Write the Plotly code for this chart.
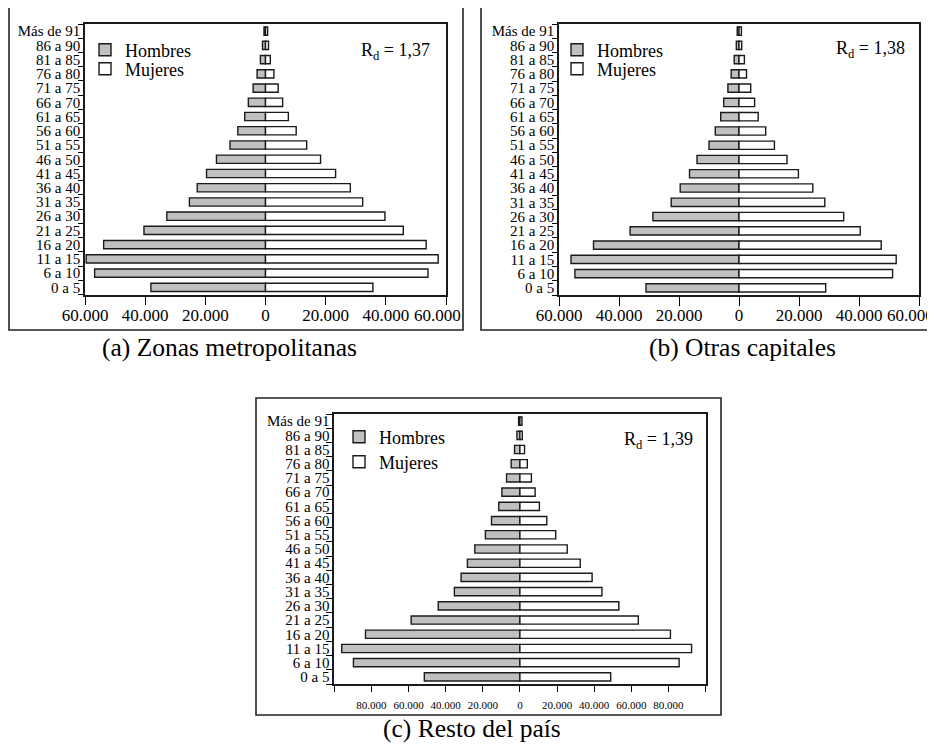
import plotly.graph_objects as go

# ---------------- data ----------------
age_groups = ["0 a 5", "6 a 10", "11 a 15", "16 a 20", "21 a 25", "26 a 30",
              "31 a 35", "36 a 40", "41 a 45", "46 a 50", "51 a 55", "56 a 60",
              "61 a 65", "66 a 70", "71 a 75", "76 a 80", "81 a 85", "86 a 90",
              "Más de 91"]

hombres_metro = [38100, 56800, 59600, 53800, 40400, 32800, 25300, 22700, 19600, 16300,
                 11800, 9200, 6900, 5700, 4100, 2800, 1700, 1000, 500]
mujeres_metro = [35700, 54000, 57400, 53400, 45800, 39700, 32300, 28200, 23300, 18300,
                 13700, 10200, 7600, 5700, 4200, 2800, 1600, 1000, 700]

hombres_cap = [31000, 54700, 56000, 48500, 36300, 28700, 22600, 19600, 16500, 14000,
               10000, 7900, 6100, 5100, 3700, 2600, 1600, 900, 600]
mujeres_cap = [28900, 51200, 52400, 47400, 40400, 34900, 28600, 24600, 19800, 16000,
               11800, 8900, 6400, 5200, 3900, 2500, 1800, 900, 800]

hombres_resto = [51500, 89700, 96000, 83200, 58600, 44000, 35300, 31700, 28300, 24300,
                 18600, 15300, 11400, 9700, 7200, 4700, 2900, 1600, 700]
mujeres_resto = [48900, 85800, 92500, 81100, 63800, 53300, 44200, 38900, 32500, 25500,
                 19300, 14500, 10500, 8200, 6200, 4000, 2500, 1300, 1100]

tick_vals_ab = [-60000, -40000, -20000, 0, 20000, 40000, 60000]
tick_text_ab = ["60.000", "40.000", "20.000", "0", "20.000", "40.000", "60.000"]
tick_vals_c = [-100000, -80000, -60000, -40000, -20000, 0, 20000, 40000, 60000, 80000, 100000]
tick_text_c = ["", "80.000", "60.000", "40.000", "20.000", "0", "20.000", "40.000",
               "60.000", "80.000", ""]

captions = ["(a) Zonas metropolitanas", "(b) Otras capitales", "(c) Resto del país"]
ratios = ["1,37", "1,38", "1,39"]
series_names = ["Hombres", "Mujeres"]

# ---------------- layout helpers ----------------
# the page body has an 8 px margin, so the figure starts at (8, 8) in the window
OFF = 8
W, H = 935 - OFF, 745 - OFF
FONT = "Liberation Serif"


def px_x(a):
    return (a - OFF) / W


def px_y(a):
    return 1 - (a - OFF) / H


panels = [
    dict(x0=85, x1=446, y0=24, y1=294.5, lim=60000, tv=tick_vals_ab, tt=tick_text_ab,
         last_shift=-9, last_y=315,
         xfont=17, xticklen=9, standoff=-5, yticklen=5,
         leg_x=125, leg_y=[50, 69], rd_x=432, rd_y=52,
         frame=(9, 7, 463, 330), cap_x=229, cap_y=347,
         h=hombres_metro, m=mujeres_metro),
    dict(x0=559, x1=919, y0=24, y1=295, lim=60000, tv=tick_vals_ab, tt=tick_text_ab,
         last_shift=-9, last_y=315,
         xfont=17, xticklen=9, standoff=-5, yticklen=5,
         leg_x=597, leg_y=[50, 69], rd_x=907, rd_y=50,
         frame=(481, 7, 933, 330), cap_x=742, cap_y=347,
         h=hombres_cap, m=mujeres_cap),
    dict(x0=334.3, x1=705.5, y0=414, y1=684, lim=100000, tv=tick_vals_c, tt=tick_text_c,
         last_shift=0, last_y=None,
         xfont=11, xticklen=6, standoff=4, yticklen=7,
         leg_x=379, leg_y=[437, 462], rd_x=695, rd_y=440,
         frame=(256, 398, 721, 715), cap_x=472, cap_y=728,
         h=hombres_resto, m=mujeres_resto),
]

fig = go.Figure()
layout = dict(
    width=W, height=H,
    margin=dict(l=0, r=0, t=0, b=0, pad=0, autoexpand=False),
    paper_bgcolor="white", plot_bgcolor="white",
    font=dict(family=FONT, color="black", size=15),
    barmode="overlay", bargap=0.42,
    showlegend=True,
)
shapes = []
annotations = []

for i, p in enumerate(panels):
    n = i + 1
    xa = "x" if n == 1 else f"x{n}"
    ya = "y" if n == 1 else f"y{n}"
    xkey = "xaxis" if n == 1 else f"xaxis{n}"
    ykey = "yaxis" if n == 1 else f"yaxis{n}"
    leg_h = "legend" if i == 0 else f"legend{2 * i + 1}"
    leg_m = f"legend{2 * i + 2}"

    fig.add_trace(go.Bar(
        y=age_groups, x=[-v for v in p["h"]], orientation="h",
        xaxis=xa, yaxis=ya, name=series_names[0], legend=leg_h,
        marker=dict(color="#c0c0c0", line=dict(color="#1a1a1a", width=1.4)),
        customdata=p["h"], hovertemplate="%{y}: %{customdata}<extra>Hombres</extra>",
    ))
    fig.add_trace(go.Bar(
        y=age_groups, x=p["m"], orientation="h",
        xaxis=xa, yaxis=ya, name=series_names[1], legend=leg_m,
        marker=dict(color="white", line=dict(color="#1a1a1a", width=1.4)),
        hovertemplate="%{y}: %{x}<extra>Mujeres</extra>",
    ))

    ticktext = list(p["tt"])
    if p["last_shift"]:
        # last label is drawn pulled inward (as in the original), as an annotation
        annotations.append(dict(
            text=ticktext[-1], xref=xa, yref="paper",
            x=p["tv"][-1], y=px_y(p["last_y"]), xshift=p["last_shift"],
            xanchor="center", yanchor="middle", showarrow=False,
            font=dict(size=p["xfont"], family=FONT),
        ))
        ticktext[-1] = ""

    layout[xkey] = dict(
        domain=[px_x(p["x0"]), px_x(p["x1"])], anchor=ya,
        range=[-p["lim"], p["lim"]], tickmode="array", tickvals=p["tv"], ticktext=ticktext,
        tickangle=0, automargin=False, ticklabeloverflow="allow",
        ticks="outside", ticklen=p["xticklen"], tickwidth=1.3, tickcolor="black",
        ticklabelstandoff=p["standoff"],
        showline=True, linecolor="#1a1a1a", linewidth=1.6, mirror=True,
        showgrid=False, zeroline=False, fixedrange=True,
        tickfont=dict(size=p["xfont"], family=FONT),
    )
    layout[ykey] = dict(
        domain=[px_y(p["y1"]), px_y(p["y0"])], anchor=xa,
        type="category", categoryorder="array", categoryarray=age_groups,
        tickmode="array", tickvals=age_groups, ticktext=age_groups,
        range=[-0.5, len(age_groups) - 0.5], automargin=False, tickangle=0,
        ticklabeloverflow="allow",
        ticks="outside", tickson="boundaries", ticklen=p["yticklen"],
        tickwidth=1.3, tickcolor="black",
        showline=True, linecolor="#1a1a1a", linewidth=1.6, mirror=True,
        showgrid=False, zeroline=False, fixedrange=True,
        tickfont=dict(size=15, family=FONT),
    )
    # vertical axis at zero with small ticks at category boundaries
    zkey = f"yaxis{n + 3}"
    zero_px = p["x0"] + (p["x1"] - p["x0"]) / 2
    layout[zkey] = dict(
        overlaying=ya, anchor="free", position=px_x(zero_px), side="left",
        range=[-0.5, len(age_groups) - 0.5], tick0=-0.5, dtick=1, automargin=False,
        ticks="outside", ticklen=4, tickwidth=1.2, tickcolor="black",
        showticklabels=False, showline=True, linecolor="black", linewidth=2,
        showgrid=False, zeroline=False, layer="above traces", fixedrange=True,
    )

    for lk, ly in [(leg_h, p["leg_y"][0]), (leg_m, p["leg_y"][1])]:
        layout[lk] = dict(
            x=px_x(p["leg_x"] - 40), xanchor="left",
            y=px_y(ly), yanchor="middle",
            bgcolor="rgba(0,0,0,0)", borderwidth=0,
            font=dict(size=18, family=FONT),
            itemclick=False, itemdoubleclick=False,
        )

    annotations.append(dict(
        text=f"R<sub>d</sub> = {ratios[i]}", xref="paper", yref="paper",
        x=px_x(p["rd_x"]), y=px_y(p["rd_y"]), xanchor="right", yanchor="middle",
        showarrow=False, font=dict(size=18, family=FONT),
    ))
    annotations.append(dict(
        text=captions[i], xref="paper", yref="paper",
        x=px_x(p["cap_x"]), y=px_y(p["cap_y"]), xanchor="center", yanchor="middle",
        showarrow=False, font=dict(size=25.5, family=FONT),
    ))
    fx0, fy0, fx1, fy1 = p["frame"]
    shapes.append(dict(
        type="rect", xref="paper", yref="paper",
        x0=px_x(fx0), x1=px_x(fx1), y0=px_y(fy1), y1=px_y(fy0),
        line=dict(color="#222", width=1.6), fillcolor="rgba(0,0,0,0)", layer="below",
    ))

layout["shapes"] = shapes
layout["annotations"] = annotations
fig.update_layout(**layout)

fig.write_html("out.html")
